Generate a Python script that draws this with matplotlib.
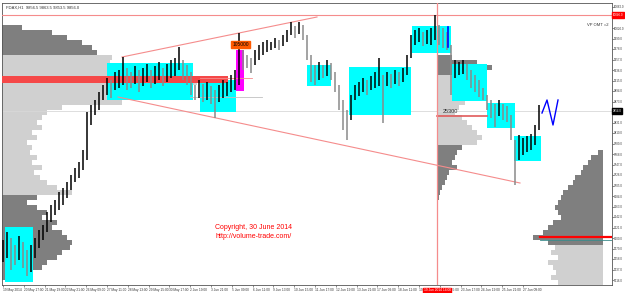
import numpy as np
import matplotlib.pyplot as plt
import matplotlib.transforms as mtransforms
from matplotlib.patches import Rectangle

plt.rcParams['font.family'] = ['Liberation Sans', 'DejaVu Sans']

# -------------------------------
# Price bars (H1), highs and lows
# -------------------------------
highs = [9596, 9612, 9600, 9586, 9604, 9592, 9576, 9586, 9600, 9616,
         9626, 9652, 9666, 9676, 9692, 9700, 9712, 9726, 9740, 9752,
         9776, 9852, 9866, 9876, 9892, 9906, 9920, 9916, 9932, 9936,
         9962, 9940, 9932, 9944, 9936, 9940, 9948, 9936, 9944, 9952,
         9940, 9948, 9956, 9960, 9982, 9956, 9946, 9932, 9906, 9916,
         9908, 9912, 9904, 9896, 9906, 9916, 9912, 9926, 9936, 10010,
         9976, 9966, 9960, 9976, 9986, 9992, 9996, 9992, 10000, 9996,
         10006, 10016, 10032, 10024, 10032, 10026, 10006, 9966, 9946, 9952,
         9946, 9956, 9950, 9932, 9906, 9876, 9856, 9886, 9906, 9912,
         9920, 9916, 9924, 9932, 9960, 9926, 9932, 9928, 9936, 9932,
         9940, 9966, 10006, 10016, 10020, 10012, 10016, 10020, 10046, 10026,
         10020, 10012, 9986, 9956, 9952, 9956, 9948, 9936, 9926, 9916,
         9900, 9886, 9876, 9868, 9876, 9868, 9864, 9846, 9796, 9806,
         9800, 9804, 9808, 9826, 9866]
lows = [9552, 9560, 9536, 9546, 9556, 9540, 9524, 9532, 9560, 9580,
        9596, 9612, 9632, 9646, 9656, 9666, 9680, 9696, 9712, 9720,
        9736, 9756, 9826, 9846, 9856, 9876, 9886, 9880, 9896, 9900,
        9906, 9896, 9900, 9908, 9892, 9904, 9912, 9900, 9908, 9916,
        9904, 9912, 9920, 9924, 9936, 9916, 9906, 9886, 9876, 9880,
        9872, 9876, 9868, 9840, 9872, 9880, 9884, 9892, 9896, 9906,
        9936, 9940, 9930, 9946, 9956, 9966, 9972, 9976, 9980, 9976,
        9984, 9992, 10006, 10000, 10008, 9996, 9956, 9912, 9906, 9916,
        9920, 9924, 9916, 9892, 9856, 9816, 9796, 9836, 9876, 9884,
        9892, 9886, 9896, 9900, 9904, 9830, 9904, 9900, 9908, 9904,
        9912, 9926, 9960, 9986, 9992, 9984, 9988, 9986, 9996, 9986,
        9980, 9976, 9886, 9920, 9926, 9928, 9916, 9900, 9892, 9882,
        9876, 9856, 9840, 9822, 9844, 9836, 9832, 9796, 9706, 9756,
        9766, 9772, 9776, 9786, 9816]

# -------------------------------
# Volume profiles (bin widths, 10-point bins, top to bottom)
# -------------------------------
left_prof_top = 10026
left_prof = [20, 50, 65, 80, 90, 95, 110, 108, 105, 120, 190, 195, 150, 190, 185,
             120, 60, 45, 40, 35, 40, 30, 35, 25, 30, 28, 35, 30, 40, 32, 38, 45,
             55, 70, 35, 25, 35, 45, 40, 55, 50, 60, 65, 70, 68, 60, 55, 45, 40,
             30, 20]
left_va = (9686, 9966)

mid_prof_top = 9966
mid_prof = [15, 40, 55, 45, 25, 18, 15, 22, 20, 28, 22, 18, 25, 30, 35, 40, 45,
            40, 25, 20, 18, 15, 20, 12, 10, 8, 5, 3, 2]
mid_va = (9786, 9926)

right_prof_top = 9776
right_prof = [5, 12, 15, 20, 22, 28, 30, 35, 40, 42, 45, 48, 45, 42, 50, 55, 60,
              70, 55, 48, 52, 45, 55, 50, 47, 52, 45]
right_va_top = 9586

# -------------------------------
# Zones, levels and annotations
# -------------------------------
# (start bar, end bar, low price, high price)
cyan_zones = [(26.0, 47.5, 9876, 9950), (49.25, 58.25, 9852, 9916),
              (76.0, 82.0, 9904, 9946), (86.5, 102.0, 9846, 9942),
              (102.25, 112.0, 9970, 10024), (112.25, 121.0, 9874, 9948),
              (121.0, 128.0, 9820, 9870), (127.75, 134.5, 9754, 9804),
              (0.5, 7.5, 9512, 9622)]
magenta_zone = (58.25, 60.25, 9894, 9976)
left_poc = (9910, 9924)
mid_poc = 9844
right_poc = 9602
upper_trend = ([29.75, 78.5], [9962, 10042])
lower_trend = ([28.75, 129.25], [9882, 9710])
forecast_x = [134.75, 136.0, 137.5, 138.75]
forecast_y = [9850, 9876, 9826, 9876]
red_level = 10046
last_price = 9854
cursor_bar = 108.5

x_labels = ['19 May 2014', '20 May 17:00', '21 May 19:00', '22 May 21:00',
            '26 May 09:00', '27 May 11:00', '28 May 13:00', '29 May 15:00',
            '30 May 17:00', '2 Jun 19:00', '3 Jun 21:00', '5 Jun 09:00',
            '6 Jun 11:00', '9 Jun 13:00', '10 Jun 15:00', '11 Jun 17:00',
            '12 Jun 19:00', '13 Jun 21:00', '17 Jun 09:00', '18 Jun 11:00',
            '19 Jun 13:00', '20 Jun 15:00', '23 Jun 17:00', '24 Jun 19:00',
            '25 Jun 21:00', '27 Jun 09:00']
y_ticks = np.arange(10062, 9510, -21)

LIGHT = '#d0d0d0'
DARK = '#7f7f7f'
TREND = '#f58c8c'

fig = plt.figure(figsize=(6.25, 2.93), dpi=100)
ax = fig.add_axes([2 / 625, 8 / 293, 610 / 625, 282 / 293])
x_min, x_max = -0.25, 152.25
ax.set_xlim(x_min, x_max)
ax.set_ylim(9506, 10070)


def draw_profile(widths, top, va_low, va_high, anchor, direction, z=1):
    for k, w in enumerate(widths):
        hi = top - 10 * k
        lo = hi - 10
        col = LIGHT if (lo >= va_low and hi <= va_high) else DARK
        ww = w / 4
        left = anchor if direction > 0 else anchor - ww
        ax.add_patch(Rectangle((left, lo), ww, 10, color=col, lw=0, zorder=z))


draw_profile(left_prof, left_prof_top, left_va[0], left_va[1], x_min, 1)
draw_profile(mid_prof, mid_prof_top, mid_va[0], mid_va[1], cursor_bar, 1)
draw_profile(right_prof, right_prof_top, 0, right_va_top, x_max - 2.25, -1)

for x0, x1, lo, hi in cyan_zones:
    ax.add_patch(Rectangle((x0, lo), x1 - x0, hi - lo, color='#00ffff', lw=0, zorder=2))
x0, x1, lo, hi = magenta_zone
ax.add_patch(Rectangle((x0, lo), x1 - x0, hi - lo, color='#ff00ff', lw=0, zorder=2))

# POC bars
ax.add_patch(Rectangle((x_min, left_poc[0]), 56.5, left_poc[1] - left_poc[0],
                       color='#f54848', lw=0, zorder=3))
ax.plot([cursor_bar, 121.0], [mid_poc, mid_poc], color='#e05a5a', lw=1.2, zorder=3)
ax.plot([134.25, x_max], [right_poc, right_poc], color='#ff0000', lw=1.6, zorder=3)
ax.plot([134.25, x_max], [right_poc - 6, right_poc - 6], color='#3c8c8c', lw=0.6, zorder=3)

# levels and trend lines
ax.axhline(red_level, color=TREND, lw=0.8, zorder=3)
ax.axvline(cursor_bar, color=TREND, lw=0.9, zorder=3)
ax.axhline(last_price, color='#d8d8d8', lw=0.6, zorder=1.5)
ax.plot([46.75, 64.75], [9882, 9882], color='#c0c0c0', lw=0.6, zorder=3)
ax.plot([49.25, 62.25], [9920, 9920], color=TREND, lw=0.6, zorder=3)
ax.plot(upper_trend[0], upper_trend[1], color=TREND, lw=0.8, zorder=3)
ax.plot(lower_trend[0], lower_trend[1], color=TREND, lw=0.8, zorder=3)

# price bars
idx = np.arange(len(highs))
mids = (np.array(highs) + np.array(lows)) / 2
cols = ['black' if k == 0 or mids[k] >= mids[k - 1] else '#8a8a8a' for k in idx]
ax.vlines(idx, lows, highs, colors=cols, lw=1.1, zorder=4)

ax.plot(forecast_x, forecast_y, color='#0000ff', lw=1.0, zorder=5)
ax.plot([111.25, 111.25], [9982, 10022], color='#0000ff', lw=1.2, zorder=5)

# labels on chart
ax.text(59.4, 9987, '105000', fontsize=3.5, ha='center', va='center', zorder=6,
        bbox=dict(boxstyle='square,pad=0.25', fc='#ff5a00', ec='#ff5a00'))
ax.text(110.0, 9848, '25300', fontsize=4, ha='left', va='bottom', color='#333333', zorder=6)
ax.text(53.0, 9618, 'Copyright, 30 June 2014', fontsize=5, color='red', zorder=6)
ax.text(53.0, 9600, 'http://volume-trade.com/', fontsize=5, color='red', zorder=6)
ax.text(0.006, 0.99, 'FDAX,H1  9856.5 9863.5 9853.5 9856.0', transform=ax.transAxes,
        fontsize=3, va='top', color='#333333')
ax.text(0.995, 0.92, 'VP OMT =2', transform=ax.transAxes, fontsize=3, ha='right',
        color='#333333')

# axes
ax.yaxis.tick_right()
ax.set_yticks(y_ticks)
ax.set_yticklabels([f'{v:.1f}' for v in y_ticks])
ax.set_xticks(np.arange(len(x_labels)) * 5.2)
ax.set_xticklabels(x_labels, ha='left')
ax.tick_params(axis='both', labelsize=2.3, length=1.5, width=0.4, pad=0.8, colors='#333333')
ax.tick_params(axis='y', labelsize=2.1, pad=0.4, length=1.2)
for s in ax.spines.values():
    s.set_linewidth(0.6)
    s.set_color('#555555')

trans_y = mtransforms.blended_transform_factory(ax.transAxes, ax.transData)
ax.text(1.001, red_level, f'{red_level:.1f}', transform=trans_y, fontsize=2.1, va='center',
        color='white', bbox=dict(boxstyle='square,pad=0.2', fc='red', ec='red'),
        clip_on=False, zorder=7)
ax.text(1.001, last_price, f'{last_price:.1f}', transform=trans_y, fontsize=2.1, va='center',
        color='white', bbox=dict(boxstyle='square,pad=0.2', fc='black', ec='black'),
        clip_on=False, zorder=7)
trans_x = mtransforms.blended_transform_factory(ax.transData, ax.transAxes)
ax.text(cursor_bar, -0.012, '19 Jun 2014 14:00', transform=trans_x, fontsize=2.3,
        ha='center', va='top', color='white', zorder=7, clip_on=False,
        bbox=dict(boxstyle='square,pad=0.2', fc='red', ec='red'))

fig.savefig('out.png', dpi=100)
